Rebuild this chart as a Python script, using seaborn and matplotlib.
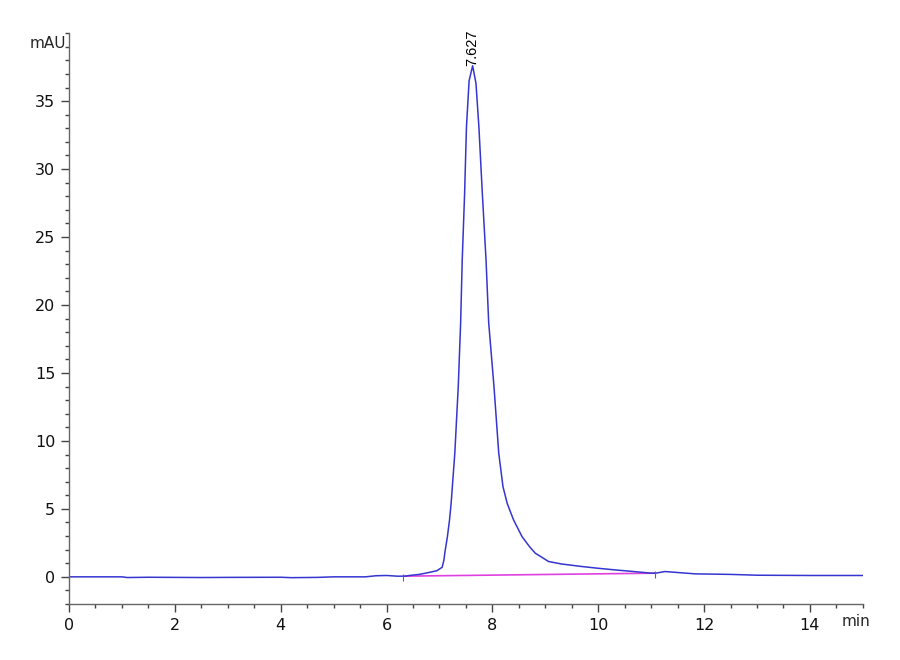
import seaborn as sns
import pandas as pd
import matplotlib.pyplot as plt
from matplotlib.ticker import MultipleLocator

# Chromatogram trace (time in min, signal in mAU)
time_min = [0.0, 1.0, 1.1, 1.5, 2.0, 2.5, 3.0, 4.0, 4.2, 4.7, 5.0, 5.6, 5.8, 6.0,
            6.2, 6.35, 6.43, 6.6, 6.74, 6.95, 7.05, 7.085, 7.10, 7.15, 7.19, 7.22,
            7.29, 7.355, 7.40, 7.43, 7.475, 7.51, 7.56, 7.627, 7.69, 7.745, 7.81,
            7.88, 7.93, 8.03, 8.12, 8.20, 8.28, 8.40, 8.56, 8.70, 8.81, 8.91, 9.06,
            9.3, 9.69, 10.0, 10.32, 10.7, 11.0, 11.1, 11.26, 11.4, 11.83, 12.5,
            13.0, 14.0, 15.0]
signal_mau = [0.0, 0.0, -0.05, -0.03, -0.04, -0.05, -0.04, -0.03, -0.06, -0.04, 0.0,
              0.0, 0.08, 0.1, 0.05, 0.05, 0.1, 0.17, 0.27, 0.45, 0.7, 1.25, 1.74,
              2.96, 4.19, 5.4, 9.1, 14.0, 18.7, 23.3, 28.2, 33.1, 36.5, 37.6, 36.3,
              33.1, 28.2, 23.3, 18.7, 14.0, 9.1, 6.64, 5.4, 4.19, 2.96, 2.23, 1.74,
              1.5, 1.13, 0.95, 0.76, 0.63, 0.51, 0.38, 0.27, 0.28, 0.39, 0.35, 0.22,
              0.18, 0.12, 0.1, 0.1]

# Integration baseline under the peak
baseline_time = [6.32, 11.07]
baseline_mau = [0.05, 0.27]

peak_time = 7.627
peak_height = 37.6
peak_label = "7.627"

trace = pd.DataFrame({"time": time_min, "signal": signal_mau})
base = pd.DataFrame({"time": baseline_time, "signal": baseline_mau})

sns.set_style("ticks")
plt.rcParams['font.family'] = ['Liberation Sans Narrow', 'DejaVu Sans Condensed', 'DejaVu Sans']

fig = plt.figure(figsize=(9, 6.6), dpi=100)
ax = fig.add_axes([0.0767, 0.0848, 0.882, 0.865])

sns.lineplot(data=base, x="time", y="signal", ax=ax, color="#e040e0", lw=1.2, sort=False)
sns.lineplot(data=trace, x="time", y="signal", ax=ax, color="#3535d0", lw=1.1, sort=False)

# peak start / end markers
ax.vlines(baseline_time, [b - 0.35 for b in baseline_mau], [b + 0.15 for b in baseline_mau],
          color="#666666", lw=0.8)

ax.text(peak_time, peak_height, peak_label, rotation=90, ha="center", va="bottom",
        fontsize=10.5, color="black", family=["Liberation Sans", "DejaVu Sans"])

ax.set_xlim(0, 15)
ax.set_ylim(-2, 40)
ax.set_xticks(range(0, 15, 2))
ax.set_yticks(range(0, 40, 5))
ax.xaxis.set_minor_locator(MultipleLocator(0.5))
ax.yaxis.set_minor_locator(MultipleLocator(1))

ax.tick_params(axis="both", which="major", length=6, width=1, color="#444444",
               labelsize=11.5, pad=4, labelcolor="#111111")
ax.tick_params(axis="both", which="minor", length=3, width=1, color="#444444")

ax.set_xlabel("")
ax.set_ylabel("")
for side in ("top", "right"):
    ax.spines[side].set_visible(False)
for side in ("left", "bottom"):
    ax.spines[side].set_color("#666666")
    ax.spines[side].set_linewidth(1.0)

fig.text(48 / 900, 1 - 43 / 660, "mAU", ha="center", va="center", fontsize=11)
fig.text(856 / 900, 1 - 622 / 660, "min", ha="center", va="center", fontsize=11)

fig.savefig("out.png", dpi=100)
